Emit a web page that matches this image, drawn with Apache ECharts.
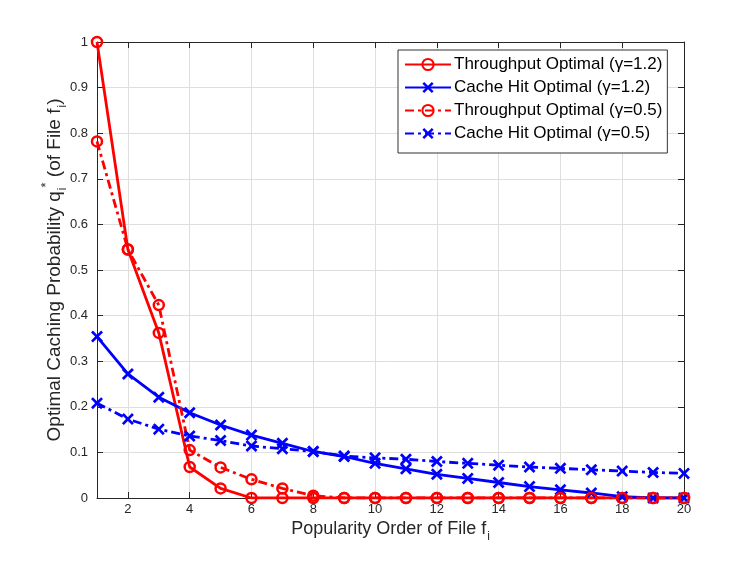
<!DOCTYPE html>
<html>
<head>
<meta charset="utf-8">
<script src="https://cdn.jsdelivr.net/npm/echarts@6/dist/echarts.min.js"></script>
<style>
  html, body { margin: 0; padding: 0; background: #fff; }
  #chart { width: 747px; height: 561px; }
</style>
</head>
<body>
<div id="chart"></div>
<script>
// file popularity order 1..20
const fileOrder = ['1','2','3','4','5','6','7','8','9','10','11','12','13','14','15','16','17','18','19','20'];

// values
const throughput12 = [1, 0.545, 0.362, 0.068, 0.021, 0, 0, 0, 0, 0, 0, 0, 0, 0, 0, 0, 0, 0, 0, 0];
const cacheHit12 = [0.354, 0.272, 0.221, 0.187, 0.160, 0.138, 0.120, 0.102, 0.091, 0.076, 0.064, 0.052, 0.043, 0.034, 0.025, 0.018, 0.011, 0.003, 0, 0];
const throughput05 = [0.782, 0.545, 0.423, 0.105, 0.067, 0.041, 0.021, 0.005, 0, 0, 0, 0, 0, 0, 0, 0, 0, 0, 0, 0];
const cacheHit05 = [0.208, 0.173, 0.151, 0.136, 0.126, 0.114, 0.108, 0.102, 0.092, 0.088, 0.085, 0.080, 0.076, 0.072, 0.068, 0.065, 0.062, 0.059, 0.056, 0.054];

const names = [
    'Throughput Optimal (γ=1.2)',
    'Cache Hit Optimal (γ=1.2)',
    'Throughput Optimal (γ=0.5)',
    'Cache Hit Optimal (γ=0.5)'
];

const font = 'Liberation Sans, Arial, sans-serif';
const crossPath = 'path://M0,1.6L1.6,0L5,3.4L8.4,0L10,1.6L6.6,5L10,8.4L8.4,10L5,6.6L1.6,10L0,8.4L3.4,5Z';
const dashDot = [9, 4, 3, 4];
const axisColor = '#262626';
const gridColor = '#dedede';
const evenOnly = (idx, val) => Number(val) % 2 === 0;

function makeSeries(name, data, color, isCircle, dashed) {
    return {
        name: name,
        type: 'line',
        data: data,
        symbol: isCircle ? 'circle' : crossPath,
        symbolSize: isCircle ? 10 : 12,
        showSymbol: true,
        animation: false,
        lineStyle: { color: color, width: 2.8, type: dashed ? dashDot : 'solid' },
        itemStyle: isCircle
            ? { color: 'rgba(255,255,255,0)', borderColor: color, borderWidth: 2.5 }
            : { color: color, borderWidth: 0 }
    };
}

const chart = echarts.init(document.getElementById('chart'));
chart.setOption({
    backgroundColor: '#fff',
    animation: false,
    grid: { left: 97, right: 63, top: 42, bottom: 63, containLabel: false },
    legend: {
        orient: 'vertical',
        left: 398,
        top: 50,
        padding: [6, 5, 11, 6],
        itemGap: 6,
        itemWidth: 46,
        itemHeight: 14,
        borderColor: '#333',
        borderWidth: 1,
        borderRadius: 0,
        backgroundColor: '#fff',
        textStyle: { fontFamily: font, fontSize: 17, color: '#000', padding: [0, 0, 0, -2] },
        data: names
    },
    xAxis: [{
        type: 'category',
        data: fileOrder,
        boundaryGap: false,
        name: '{t|Popularity Order of File f}{s|i}',
        nameLocation: 'middle',
        nameGap: 17,
        nameMoveOverlap: false,
        nameTextStyle: {
            rich: {
                t: { fontFamily: font, fontSize: 18, color: axisColor },
                s: { fontFamily: font, fontSize: 12, color: axisColor, padding: [16, 0, 0, 1] }
            }
        },
        axisLine: { onZero: false, lineStyle: { color: axisColor, width: 1 } },
        axisTick: { inside: true, length: 6, interval: evenOnly, lineStyle: { color: axisColor } },
        axisLabel: { interval: evenOnly, color: axisColor, fontSize: 13, margin: 5, fontFamily: font },
        splitLine: { show: true, interval: evenOnly, lineStyle: { color: gridColor, width: 1 } }
    }, {
        type: 'category',
        data: fileOrder,
        boundaryGap: false,
        position: 'top',
        axisLine: { onZero: false, lineStyle: { color: axisColor, width: 1 } },
        axisTick: { inside: true, length: 6, interval: evenOnly, lineStyle: { color: axisColor } },
        axisLabel: { show: false },
        splitLine: { show: false }
    }],
    yAxis: [{
        type: 'value',
        min: 0,
        max: 1,
        interval: 0.1,
        name: '{t|Optimal Caching Probability q}{s|i}{u|*}{t| (of File f}{s|i}{t|)}',
        nameLocation: 'middle',
        nameGap: 28,
        nameMoveOverlap: false,
        nameTextStyle: {
            rich: {
                t: { fontFamily: font, fontSize: 19, color: axisColor },
                s: { fontFamily: font, fontSize: 12, color: axisColor, padding: [16, 0, 0, 1] },
                u: { fontFamily: font, fontSize: 13, color: axisColor, padding: [0, 0, 16, 0] }
            }
        },
        axisLine: { show: true, lineStyle: { color: axisColor, width: 1 } },
        axisTick: { show: true, inside: true, length: 6, lineStyle: { color: axisColor } },
        axisLabel: { color: axisColor, fontSize: 13, margin: 9, fontFamily: font },
        splitLine: { show: true, lineStyle: { color: gridColor, width: 1 } }
    }, {
        type: 'value',
        min: 0,
        max: 1,
        interval: 0.1,
        position: 'right',
        axisLine: { show: true, lineStyle: { color: axisColor, width: 1 } },
        axisTick: { show: true, inside: true, length: 6, lineStyle: { color: axisColor } },
        axisLabel: { show: false },
        splitLine: { show: false }
    }],
    series: [
        makeSeries(names[0], throughput12, '#ff0000', true, false),
        makeSeries(names[1], cacheHit12, '#0000ff', false, false),
        makeSeries(names[2], throughput05, '#ff0000', true, true),
        makeSeries(names[3], cacheHit05, '#0000ff', false, true)
    ]
});
</script>
</body>
</html>
